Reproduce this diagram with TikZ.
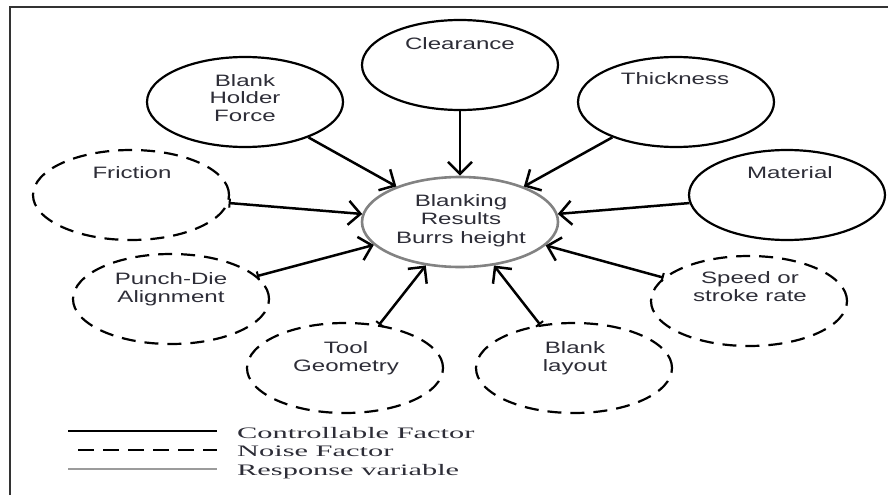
\documentclass[tikz,border=0pt]{standalone}
\usepackage{fontspec}
\newfontfamily\nodefnt[FakeStretch=1.46]{Liberation Sans}
\newfontfamily\legfnt[FakeStretch=1.9]{Liberation Serif}
\usetikzlibrary{shapes.geometric,arrows.meta}
\definecolor{txtc}{RGB}{45,45,55}
\definecolor{respc}{RGB}{130,130,130}
\begin{document}
\begin{tikzpicture}[x=1pt,y=-1pt,
  factor/.style={ellipse, minimum width=196pt, minimum height=90pt, inner sep=0pt, line width=2.2pt},
  ctrl/.style={factor, draw=black},
  noise/.style={factor, draw=black, dash pattern=on 14pt off 9pt},
  resp/.style={factor, draw=respc, line width=2.6pt},
  lbl/.style={font=\nodefnt\fontsize{16.5}{17.5}\selectfont, text=txtc, align=center, anchor=base, inner sep=0pt},
  leg/.style={font=\legfnt\fontsize{16}{18}\selectfont, text=txtc, anchor=base west, inner sep=0pt},
  arr/.style={line width=2.5pt, -{Straight Barb[length=12pt,width=24pt,line width=2.5pt]}},
  narr/.style={line width=2.5pt, {Bar[width=9pt,line width=2pt]}-{Straight Barb[length=12pt,width=24pt,line width=2.5pt]}},
]
\useasboundingbox (0,0) rectangle (888,495);
% frame
\draw[line width=1.4pt, black!80] (10,495) -- (10,7) -- (888,7);

% ellipses
\node[resp]  (res)  at (460,222) {};
\node[ctrl]  (clr)  at (460,65)  {};
\node[ctrl]  (bhf)  at (245,102) {};
\node[ctrl]  (thk)  at (676,102) {};
\node[ctrl]  (mat)  at (787,195) {};
\node[noise] (fri)  at (131,195) {};
\node[noise] (pda)  at (171,299) {};
\node[noise] (tool) at (345,368) {};
\node[noise] (blk)  at (574,368) {};
\node[noise] (spd)  at (749,301) {};

% labels (base anchor = baseline of the last line)
\node[lbl, font=\nodefnt\fontsize{16.5}{18.5}\selectfont] (tres) at (461,243) {Blanking\\Results\\Burrs height};
\node[lbl] (tclr)  at (460,49)  {Clearance};
\node[lbl] (tbhf)  at (245,121) {Blank\\Holder\\Force};
\node[lbl] (tthk)  at (675,84)  {Thickness};
\node[lbl] (tmat)  at (790,178) {Material};
\node[lbl] (tfri)  at (132,178) {Friction};
\node[lbl] (tpda)  at (171,302) {Punch-Die\\Alignment};
\node[lbl] (ttool) at (346,371) {Tool\\Geometry};
\node[lbl] (tblk)  at (575,371) {Blank\\layout};
\node[lbl] (tspd)  at (750,301) {Speed or\\stroke rate};

% connectors
\draw[arr]  (bhf)  -- (res);
\draw[arr]  (clr)  -- (res);
\draw[arr]  (thk)  -- (res);
\draw[arr]  (mat)  -- (res);
\draw[narr] (fri)  -- (res);
\draw[narr] (pda)  -- (res);
\draw[narr] (tool) -- (res);
\draw[narr] (blk)  -- (res);
\draw[narr] (spd)  -- (res);

% legend
\coordinate (l1a) at (68,431);  \coordinate (l1b) at (217,431);
\coordinate (l2a) at (78,450);  \coordinate (l2b) at (217,450);
\coordinate (l3a) at (68,469);  \coordinate (l3b) at (217,469);
\draw[line width=2.2pt, black] (l1a) -- (l1b);
\draw[line width=2.2pt, black, dash pattern=on 16pt off 9pt] (l2a) -- (l2b);
\draw[line width=2.2pt, respc!80] (l3a) -- (l3b);
\node[leg] (lg1) at (237,438) {Controllable Factor};
\node[leg] (lg2) at (237,456) {Noise Factor};
\node[leg] (lg3) at (237,475) {Response variable};
\end{tikzpicture}
\end{document}
